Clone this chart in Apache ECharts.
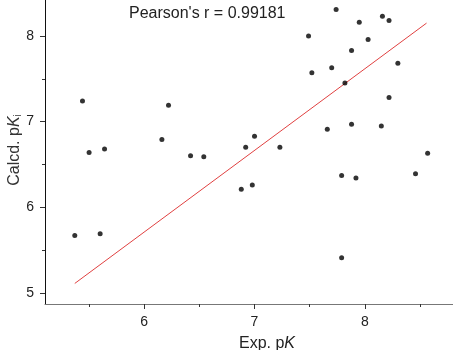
<!DOCTYPE html>
<html>
<head>
<meta charset="utf-8">
<script src="https://cdn.jsdelivr.net/npm/echarts@6/dist/echarts.min.js"></script>
<style>html,body{margin:0;padding:0;background:#fff}#c{width:453px;height:350px}</style>
</head>
<body>
<div id="c"></div>
<script>
const expPK = [5.37,5.60,5.44,5.50,5.64,6.16,6.22,6.42,6.54,6.88,6.98,6.92,7.00,7.23,7.49,7.52,7.66,7.70,7.74,7.79,7.79,7.82,7.88,7.88,7.92,7.95,8.03,8.16,8.15,8.22,8.22,8.30,8.46,8.57];
const calcPK = [5.67,5.69,7.24,6.64,6.68,6.79,7.19,6.60,6.59,6.21,6.26,6.70,6.83,6.70,8.00,7.57,6.91,7.63,8.31,6.37,5.41,7.45,7.83,6.97,6.34,8.16,7.96,8.23,6.95,8.18,7.28,7.68,6.39,6.63];
const fitX = [5.37, 8.56];
const fitY = [5.11, 8.15];
const xMajorTicks = [6, 7, 8];
const xMinorTicks = [5.5, 6.5, 7.5, 8.5];
const yMajorTicks = [5, 6, 7, 8];
const yMinorTicks = [5.5, 6.5, 7.5];
const titleText = "Pearson's r = 0.99181";

const font = 'Liberation Sans, Arial, sans-serif';
const chart = echarts.init(document.getElementById('c'));
const xBase = {type:'value', min:5.1, max:8.8, position:'bottom', splitLine:{show:false}};
const yBase = {type:'value', min:4.87, max:8.42, position:'left', splitLine:{show:false}};
chart.setOption({
  animation:false,
  title:{text:titleText, left:129, top:6, padding:0,
    textStyle:{fontFamily:font, fontSize:16, fontWeight:'normal', color:'#222'}},
  grid:{left:45, right:0, top:0, bottom:46},
  xAxis:[
    Object.assign({}, xBase, {
      axisLine:{show:true, lineStyle:{color:'#777', width:1}},
      axisTick:{show:true, inside:false, length:5, customValues:xMajorTicks, lineStyle:{color:'#333'}},
      axisLabel:{customValues:xMajorTicks, margin:11, fontFamily:font, fontSize:14, color:'#222'}
    }),
    Object.assign({}, xBase, {
      axisLine:{show:false},
      axisTick:{show:true, inside:false, length:3, customValues:xMinorTicks, lineStyle:{color:'#333'}},
      axisLabel:{show:false}
    })
  ],
  yAxis:[
    Object.assign({}, yBase, {
      axisLine:{show:true, lineStyle:{color:'#111', width:1}},
      axisTick:{show:true, inside:false, length:5, customValues:yMajorTicks, lineStyle:{color:'#333'}},
      axisLabel:{customValues:yMajorTicks, margin:11, fontFamily:font, fontSize:14, color:'#222'}
    }),
    Object.assign({}, yBase, {
      axisLine:{show:false},
      axisTick:{show:true, inside:false, length:3, customValues:yMinorTicks, lineStyle:{color:'#333'}},
      axisLabel:{show:false}
    })
  ],
  graphic:[
    {type:'text', x:267, y:344, style:{
      text:'Exp. p{k|K}', fontFamily:font, fontSize:16, fill:'#222', align:'center', verticalAlign:'middle',
      rich:{k:{fontFamily:font, fontSize:16, fontStyle:'italic', fill:'#222'}}}},
    {type:'text', x:15, y:150, rotation:Math.PI/2, style:{
      text:'Calcd. p{k|K}{s|i}', fontFamily:font, fontSize:16, fill:'#333', align:'center', verticalAlign:'middle',
      rich:{k:{fontFamily:font, fontSize:16, fontStyle:'italic', fill:'#333'},
            s:{fontFamily:font, fontSize:10, fill:'#333', verticalAlign:'bottom', padding:[6,0,0,0]}}}}
  ],
  series:[
    {type:'line', data:fitX.map((x,i)=>[x,fitY[i]]), symbol:'none',
      lineStyle:{color:'#e04040', width:1}, z:2},
    {type:'scatter', data:expPK.map((x,i)=>[x,calcPK[i]]), symbol:'circle', symbolSize:5,
      itemStyle:{color:'#000'}, z:3}
  ]
});
</script>
</body>
</html>
